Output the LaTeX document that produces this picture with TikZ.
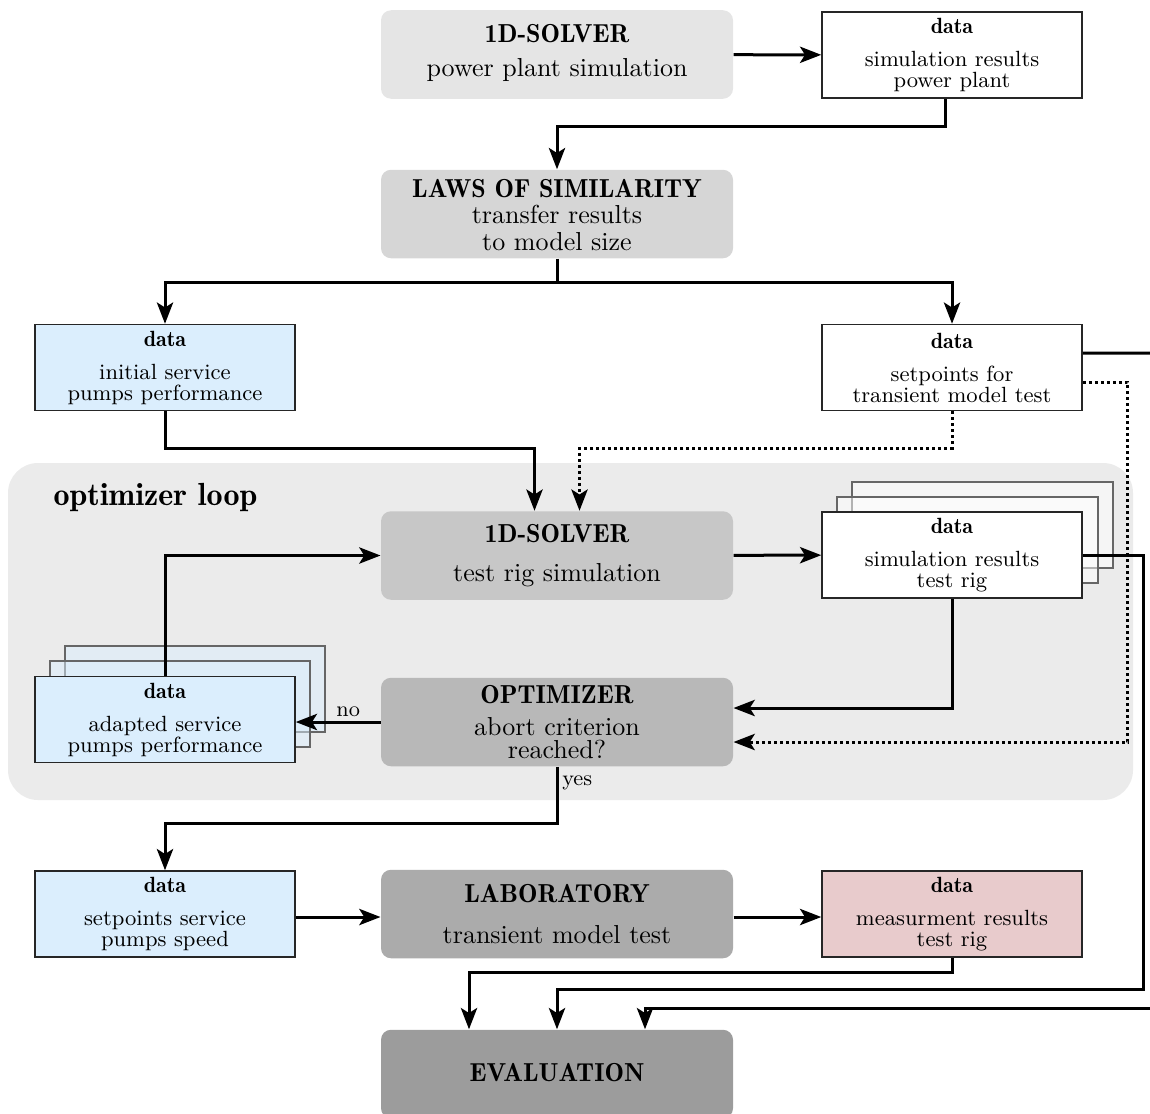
\documentclass[tikz,border=0pt]{standalone}
\usepackage{tikz}
\usetikzlibrary{arrows.meta,positioning}

\definecolor{databluefill}{RGB}{219,238,253}
\definecolor{datapinkfill}{RGB}{232,203,204}

\newcommand{\boxtitle}{\fontsize{10.4}{10.8}\fontseries{b}\selectfont}
\newcommand{\boxbody}{\fontsize{10.4}{10.8}\selectfont}
\newcommand{\datatext}{\fontsize{8.8}{8.4}\selectfont}
\newcommand{\datahead}{\fontsize{8.8}{8.4}\fontseries{b}\selectfont}
\newcommand{\liftup}[1]{\rule[-#1]{0pt}{0pt}}

\tikzset{
  stepbox/.style={rectangle, rounded corners=4pt, minimum width=140.8pt, minimum height=35.4pt, inner sep=0pt, align=center, font=\boxbody},
  databox/.style={rectangle, draw=black!85, line width=0.6pt, fill=white, minimum width=104pt, minimum height=34.4pt, inner sep=0pt, align=center, font=\datatext},
  stackcopy/.style={draw=black!60, line width=0.6pt, fill opacity=0.5},
  flow/.style={->, line width=1.2pt},
  hint/.style={->, line width=1.2pt, dash pattern=on 1.2pt off 1.2pt},
  tag/.style={font=\fontsize{8.7}{9}\selectfont, inner sep=1.5pt}
}

\begin{document}
\begin{tikzpicture}[x=0.4pt, y=-0.4pt, >={Stealth[length=8.5pt, width=6.5pt, inset=2pt]}]
  \useasboundingbox (0,0) rectangle (1150,1113);

  % Optimizer loop background
  \fill[black!8, rounded corners=12pt] (8,463) rectangle (1133,800);
  \node[font=\fontsize{12.8}{13}\fontseries{b}\selectfont, anchor=west, inner sep=0pt] (looplabel) at (53,497) {optimizer loop};

  % Power plant
  \node[stepbox, fill=black!10] (ppsim) at (557,54.5) {{\boxtitle 1D-SOLVER}\\[3pt] power plant simulation\liftup{3.4pt}};
  \node[databox] (ppres) at (952,55) {{\datahead data}\\[4.8pt] simulation results\\ power plant};
  \node[stepbox, fill=black!16] (laws) at (557,214) {\rule{0pt}{8pt}{\boxtitle LAWS OF SIMILARITY}\\[-0.4pt] transfer results\\ to model size};
  \node[databox, fill=databluefill] (initpump) at (165,367.5) {{\datahead data}\\[4.8pt] initial service\\ pumps performance};
  \node[databox] (setpts) at (952,367.5) {{\datahead data}\\[4.8pt] setpoints for\\ transient model test};

  % Loop
  \node[stepbox, fill=black!22] (rigsim) at (557,555.5) {{\boxtitle 1D-SOLVER}\\[4.8pt] test rig simulation};
  \draw[stackcopy, fill=white] (852,482) rectangle (1113,568);
  \draw[stackcopy, fill=white] (837,497) rectangle (1098,583);
  \node[databox] (rigres) at (952,555) {{\datahead data}\\[4.8pt] simulation results\\ test rig};
  \node[stepbox, fill=black!28] (optim) at (557,722) {{\boxtitle OPTIMIZER}\\[2pt] abort criterion\\[-1.6pt] reached?};
  \draw[stackcopy, fill=databluefill] (65,646) rectangle (325,732);
  \draw[stackcopy, fill=databluefill] (50,661) rectangle (310,747);
  \node[databox, fill=databluefill] (adapted) at (165,719.5) {{\datahead data}\\[4.8pt] adapted service\\ pumps performance};

  % Test
  \node[databox, fill=databluefill] (spspeed) at (165,914) {{\datahead data}\\[4.8pt] setpoints service\\ pumps speed};
  \node[stepbox, fill=black!33] (lab) at (557,914) {{\boxtitle LABORATORY}\\[5.6pt] transient model test};
  \node[databox, fill=datapinkfill] (measres) at (952,914) {{\datahead data}\\[4.8pt] measurment results\\ test rig};
  \node[stepbox, fill=black!39] (evalbox) at (557,1074) {\boxtitle EVALUATION\liftup{1.5pt}};

  \coordinate (rimtop) at (1150,353);
  \coordinate (rimbot) at (1150,1008);

  % Connections
  \draw[flow] (ppsim) -- (ppres);
  \draw[flow] ([xshift=-2.6pt]ppres.south) -- ++(0,28) -| (laws.north);
  \draw[flow] (laws.south) -- ++(0,24) -| (initpump.north);
  \draw[flow] (laws.south) -- ++(0,24) -| (setpts.north);
  \draw[flow] (initpump.south) -- ++(0,37) -| ([xshift=-9pt]rigsim.north);
  \draw[hint] (setpts.south) -- ++(0,37) -| ([xshift=9pt]rigsim.north);
  \draw[line width=1.2pt] ([yshift=5.8pt]setpts.east) -- (rimtop);
  \draw[hint] ([yshift=-5.8pt]setpts.east) -- ++(45,0) |- ([yshift=-8pt]optim.east);
  \draw[flow] (rigsim) -- (rigres);
  \draw[flow] (rigres.south) |- ([yshift=5.6pt]optim.east);
  \draw[flow] (optim.west) -- node[tag, above, xshift=4pt] (nolabel) {no} (optim.west -| adapted.east);
  \draw[flow] (adapted.north) |- (rigsim.west);
  \draw[flow] (optim.south) -- node[tag, right, pos=0.28] (yeslabel) {yes} ++(0,57) -| (spspeed.north);
  \draw[flow] ([yshift=-1.2pt]spspeed.east) -- ([yshift=-1.2pt]lab.west);
  \draw[flow] ([yshift=-1.2pt]lab.east) -- ([yshift=-1.2pt]measres.west);
  \draw[flow] (measres.south) -- ++(0,15) -| ([xshift=-35.2pt]evalbox.north);
  \draw[flow] (rigres.east) -- ++(61,0) |- ([yshift=16pt]evalbox.north) -- (evalbox.north);
  \draw[flow] (rimbot) -| ([xshift=35.2pt]evalbox.north);
\end{tikzpicture}
\end{document}
